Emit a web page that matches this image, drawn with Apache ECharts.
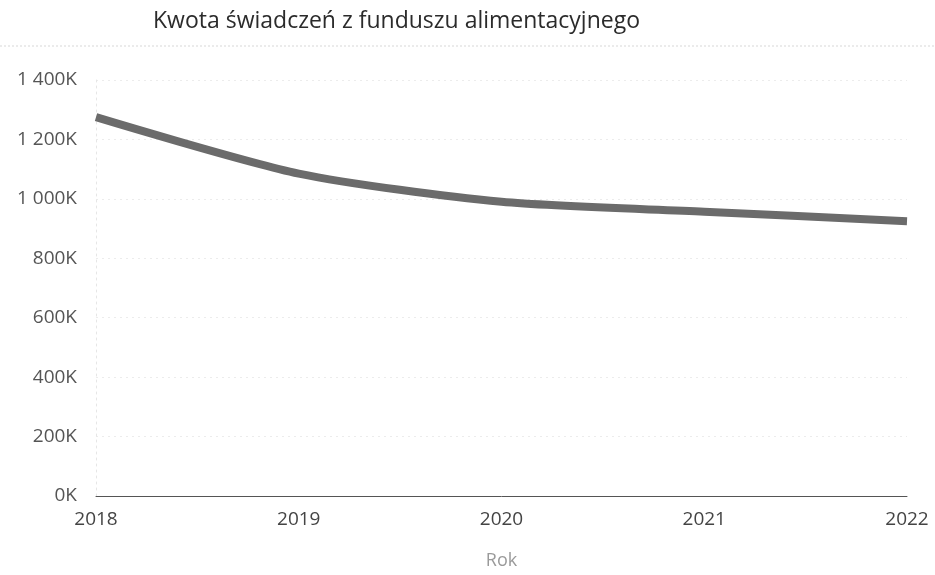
<!DOCTYPE html>
<html>
<head>
<meta charset="utf-8">
<script src="https://cdn.jsdelivr.net/npm/echarts@6/dist/echarts.min.js"></script>
<style>
  html, body { margin: 0; padding: 0; background: #fff; }
  #chart { width: 935px; height: 575px; }
</style>
</head>
<body>
<div id="chart"></div>
<script>
// Fund benefit amounts per year (in PLN)
const years = ['2018', '2019', '2020', '2021', '2022'];
const amounts = [1275000, 1085000, 990000, 957000, 925000];
const yTicks = [0, 200000, 400000, 600000, 800000, 1000000, 1200000, 1400000];

const chart = echarts.init(document.getElementById('chart'));

function fmtK(v) {
  const k = Math.round(v / 1000);
  return String(k).replace(/\B(?=(\d{3})+(?!\d))/g, ' ') + 'K';
}

chart.setOption({
  animation: false,
  backgroundColor: '#ffffff',
  textStyle: { fontFamily: 'Open Sans, Noto Sans, sans-serif' },
  title: {
    text: 'Kwota świadczeń z funduszu alimentacyjnego',
    left: 148,
    top: 5,
    textStyle: { fontSize: 23, fontWeight: 'normal', color: '#2b2b2b', fontFamily: 'Open Sans, sans-serif' }
  },
  graphic: [{
    type: 'line',
    shape: { x1: 0, y1: 46, x2: 935, y2: 46 },
    style: { stroke: '#d8d8d8', lineWidth: 1, lineDash: [2, 2] }
  }],
  grid: { left: 96, right: 28, top: 80, bottom: 79, containLabel: false },
  xAxis: {
    type: 'category',
    data: years,
    boundaryGap: false,
    name: 'Rok',
    nameLocation: 'middle',
    nameGap: 56,
    nameTextStyle: { fontSize: 18, color: '#9a9a9a' },
    axisLine: { show: true, lineStyle: { color: '#555', width: 1 } },
    axisTick: { show: false },
    axisLabel: { fontSize: 19, color: '#444', margin: 14 },
    splitLine: { show: false }
  },
  yAxis: {
    type: 'value',
    min: yTicks[0],
    max: yTicks[yTicks.length - 1],
    interval: yTicks[1] - yTicks[0],
    axisLine: { show: true, lineStyle: { color: '#e6e6e6', type: [2, 4] } },
    axisTick: { show: false },
    axisLabel: { fontSize: 19, color: '#555', margin: 19, formatter: fmtK },
    splitLine: { show: true, lineStyle: { color: '#ececec', type: [2, 4] } }
  },
  series: [{
    type: 'line',
    data: amounts,
    smooth: 0.25,
    symbol: 'none',
    lineStyle: { color: '#6b6b6b', width: 8 }
  }]
});
</script>
</body>
</html>
